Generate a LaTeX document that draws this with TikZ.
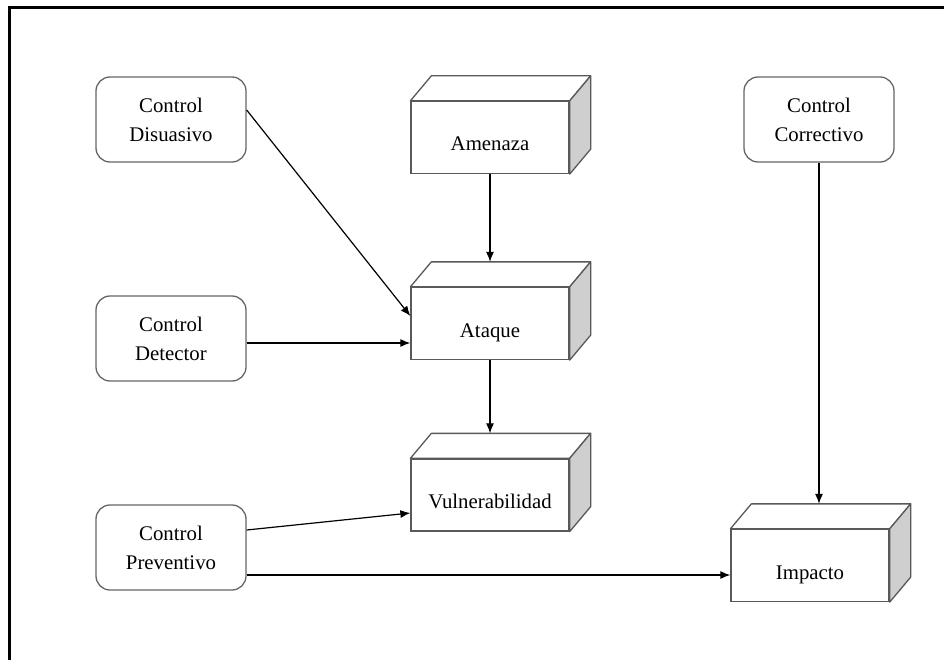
\documentclass[tikz,border=0pt]{standalone}
\usepackage{fontspec}
\setmainfont{Liberation Serif}
\usetikzlibrary{arrows.meta}

\tikzset{
  control/.style={draw=gray!80!black, line width=1.3pt, rounded corners=14pt, fill=white,
    minimum width=150pt, minimum height=85pt, align=center, font=\fontsize{20.8}{29}\selectfont},
  caja/.style={draw=gray!70!black, line width=1.3pt, fill=white, minimum width=158pt,
    minimum height=72pt, text height=27pt, text depth=0pt, font=\fontsize{20.8}{24}\selectfont},
  tapa/.style={draw=gray!70!black, line width=1.3pt, fill=white, line join=round},
  lado/.style={draw=gray!70!black, line width=1.3pt, fill=gray!38, line join=round},
  flecha/.style={-{Latex[length=10pt,width=8pt]}, line width=1.2pt, black},
}
% caja en 3D: nombre, x, y, texto
\newcommand{\cubo}[4]{%
  \node[caja] (#1) at (#2,#3) {#4};
  \draw[tapa] (#1.north west) -- ([shift={(21pt,25pt)}]#1.north west)
     -- ([shift={(21pt,25pt)}]#1.north east) -- (#1.north east) -- cycle;
  \draw[lado] (#1.north east) -- ([shift={(21pt,25pt)}]#1.north east)
     -- ([shift={(21pt,25pt)}]#1.south east) -- (#1.south east) -- cycle;
  \coordinate (#1-top) at ([yshift=25pt]#1.north);
}

\begin{document}
\begin{tikzpicture}[x=1pt,y=-1pt]
  \useasboundingbox (0,0) rectangle (944,660);
  \draw[line width=3pt] (9.5,660) -- (9.5,7.5) -- (944,7.5);

	\node[control] (dis) at (171,119.5) {Control\\Disuasivo};
	\node[control] (det) at (171,338.5) {Control\\Detector};
	\node[control] (prev) at (171,547.5) {Control\\Preventivo};
	\node[control] (corr) at (819,119.5) {Control\\Correctivo};

       \cubo{am}{490}{137.5}{Amenaza}
       \cubo{at}{490}{323.5}{Ataque}
       \cubo{vul}{490}{495}{Vulnerabilidad}
       \cubo{imp}{810}{565.5}{Impacto}

	\draw[flecha] (am) -- (at-top);
	\draw[flecha] (at) -- (vul-top);
	\draw[flecha] ([yshift=9.5pt]dis.east) -- ([yshift=7.5pt]at.west);
	\draw[flecha] ([yshift=-4.5pt]det.east) -- ([yshift=-19.5pt]at.west);
	\draw[flecha] ([yshift=17.5pt]prev.east) -- ([yshift=-18pt]vul.west);
	\draw[flecha] ([yshift=-27.5pt]prev.east) -- ([yshift=-9.5pt]imp.west);
	\draw[flecha] (corr.south) -- (corr.south |- imp-top);
\end{tikzpicture}
\end{document}
